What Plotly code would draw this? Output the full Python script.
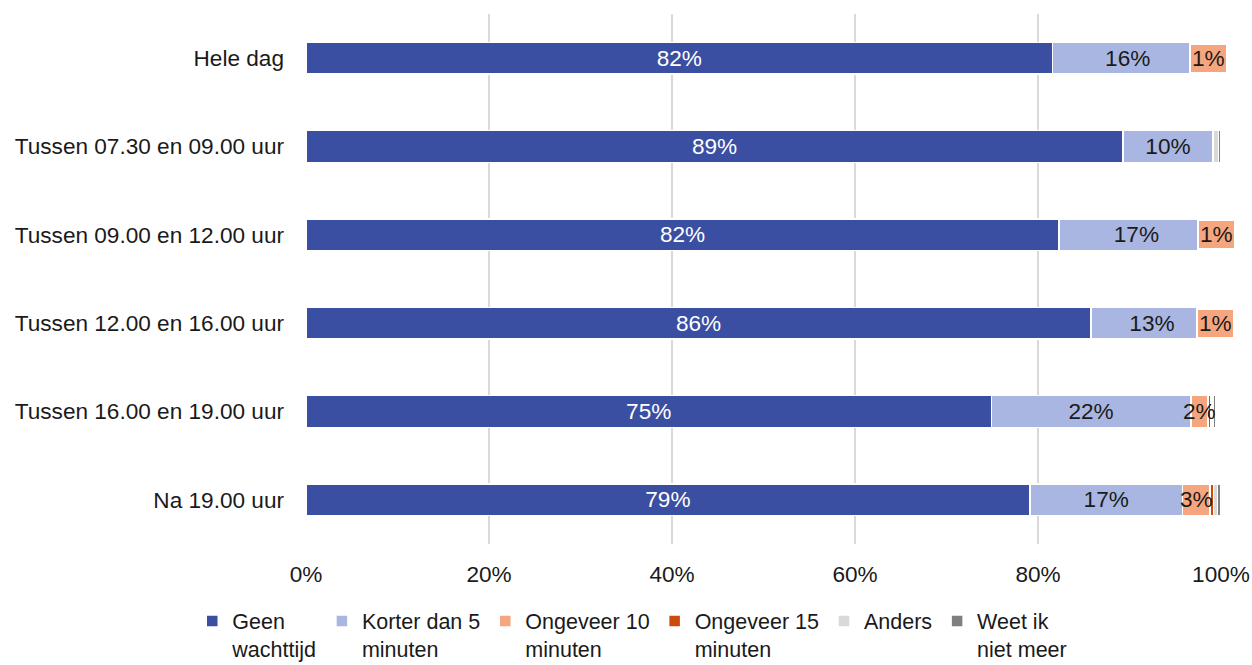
import plotly.graph_objects as go

categories = ["Hele dag", "Tussen 07.30 en 09.00 uur", "Tussen 09.00 en 12.00 uur",
              "Tussen 12.00 en 16.00 uur", "Tussen 16.00 en 19.00 uur", "Na 19.00 uur"]
series_names = ["Geen<br>wachttijd", "Korter dan 5<br>minuten", "Ongeveer 10<br>minuten",
                "Ongeveer 15<br>minuten", "Anders", "Weet ik<br>niet meer"]
geen = [81.6, 89.3, 82.3, 85.8, 74.9, 79.1]
korter = [16.4, 9.8, 16.9, 13.3, 21.8, 16.7]
ong10 = [1.2, 0.0, 0.6, 0.7, 1.9, 3.0]
ong15 = [0.2, 0.0, 0.0, 0.0, 0.3, 0.4]
anders = [0.4, 0.6, 0.2, 0.2, 0.2, 0.4]
weet = [0.2, 0.3, 0.0, 0.0, 0.3, 0.4]
ong10_labels = ["1%", "", "1%", "1%", "2%", "3%"]

colors = ["#3A4EA2", "#A9B6E1", "#F6A67F", "#CC4A0C", "#D9D9D9", "#7F7F7F"]
values = [geen, korter, ong10, ong15, anders, weet]
text_colors = ["white", "#1a1a1a", None, None, None, None]

FONT = "Liberation Sans"
FS = 22.6

fig = go.Figure()
for i, (name, vals, col) in enumerate(zip(series_names, values, colors)):
    if text_colors[i]:
        kw = dict(text=[f"{round(v)}%" for v in vals], textposition="inside",
                  insidetextanchor="middle", textangle=0,
                  insidetextfont=dict(color=text_colors[i], size=FS, family=FONT))
    else:
        kw = dict(textposition="none")
    fig.add_trace(go.Bar(
        y=categories, x=vals, name=name, orientation="h",
        marker=dict(color=col, line=dict(color="white", width=1.5)),
        width=0.36, **kw))

# labels for the small "Ongeveer 10" segments
for cat, g, k, o, lab in zip(categories, geen, korter, ong10, ong10_labels):
    if not lab:
        continue
    boxed = o < 1.5
    fig.add_annotation(
        x=g + k + o / 2, y=cat, text=lab, showarrow=False,
        font=dict(size=FS, color="#1a1a1a", family=FONT),
        bgcolor=colors[2] if boxed else "rgba(0,0,0,0)",
        bordercolor="white" if boxed else "rgba(0,0,0,0)",
        borderwidth=2, borderpad=1 if boxed else 0)

fig.update_layout(
    barmode="stack",
    width=1252, height=665,
    margin=dict(l=306, r=31, t=14, b=121, autoexpand=False),
    plot_bgcolor="white", paper_bgcolor="white",
    font=dict(family=FONT, size=FS, color="#1a1a1a"),
    showlegend=True,
    legend=dict(orientation="h", xref="container", x=0.505, xanchor="center",
                yref="container", y=0.097, yanchor="top",
                font=dict(size=21.5), traceorder="normal", valign="top",
                itemwidth=30, tracegroupgap=0),
    uniformtext=dict(mode=False),
)
fig.update_xaxes(range=[0, 100], tickvals=[0, 20, 40, 60, 80, 100],
                 ticktext=["0%", "20%", "40%", "60%", "80%", "100%"],
                 showgrid=True, gridcolor="#D9D9D9", gridwidth=2,
                 zeroline=False, showline=False, ticks="", automargin=False,
                 ticklabelstandoff=14, tickfont=dict(size=FS))
fig.update_yaxes(autorange="reversed", showgrid=False, ticks="", automargin=False,
                 ticklabelstandoff=21, tickfont=dict(size=FS))

fig.write_html("out.html", config={"displayModeBar": False},
               post_script="document.body.style.margin='0';document.body.style.overflow='hidden';")
